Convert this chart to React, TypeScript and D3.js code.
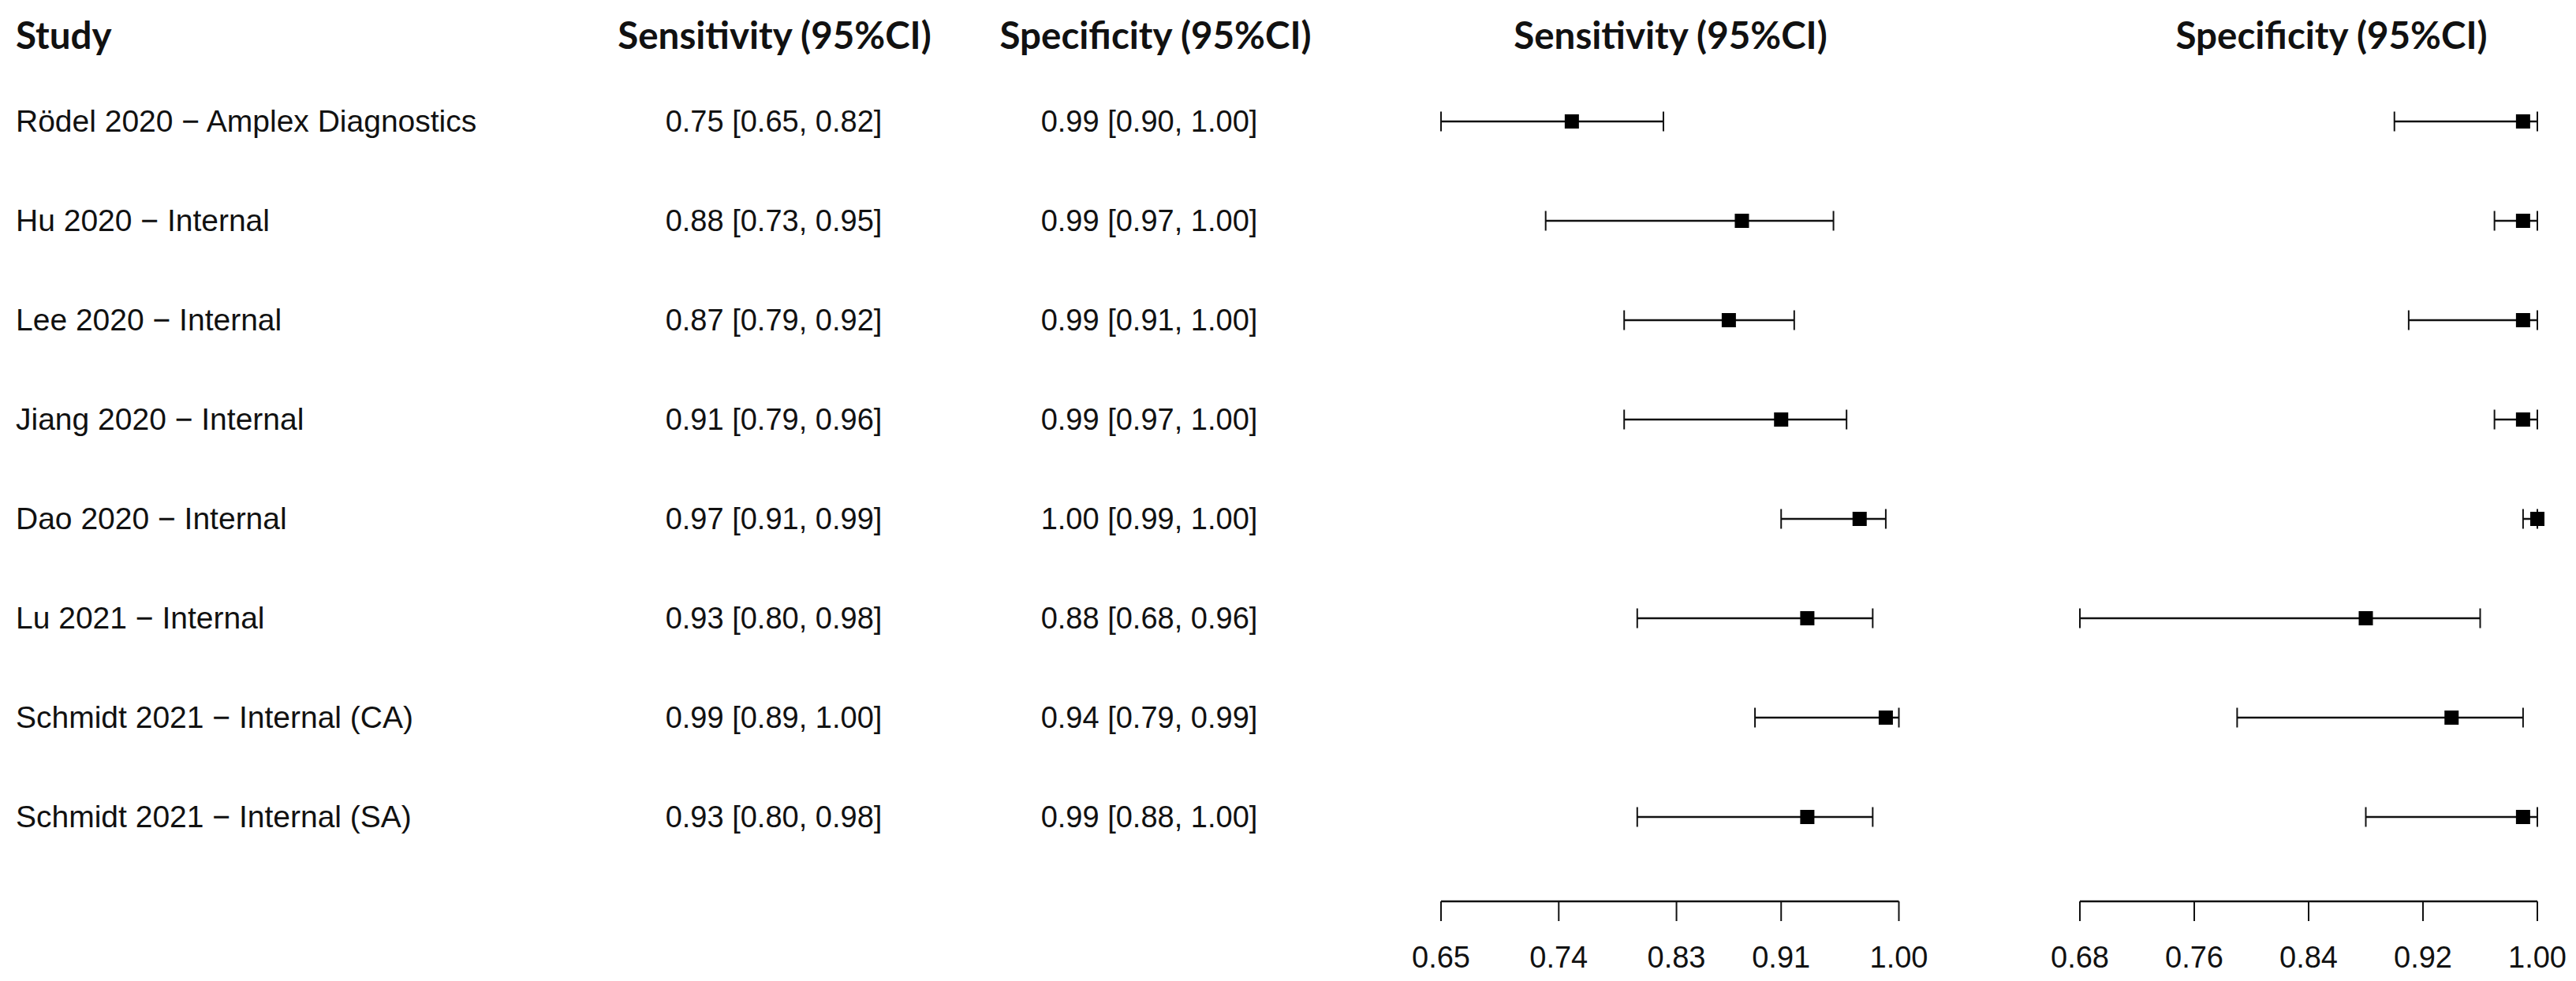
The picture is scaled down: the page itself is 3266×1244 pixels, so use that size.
import * as d3 from "d3";

const studies = [
  "Rödel 2020 − Amplex Diagnostics",
  "Hu 2020 − Internal",
  "Lee 2020 − Internal",
  "Jiang 2020 − Internal",
  "Dao 2020 − Internal",
  "Lu 2021 − Internal",
  "Schmidt 2021 − Internal (CA)",
  "Schmidt 2021 − Internal (SA)",
];

const sensEst = [0.75, 0.88, 0.87, 0.91, 0.97, 0.93, 0.99, 0.93];
const sensLow = [0.65, 0.73, 0.79, 0.79, 0.91, 0.8, 0.89, 0.8];
const sensHigh = [0.82, 0.95, 0.92, 0.96, 0.99, 0.98, 1.0, 0.98];

const specEst = [0.99, 0.99, 0.99, 0.99, 1.0, 0.88, 0.94, 0.99];
const specLow = [0.9, 0.97, 0.91, 0.97, 0.99, 0.68, 0.79, 0.88];
const specHigh = [1.0, 1.0, 1.0, 1.0, 1.0, 0.96, 0.99, 1.0];

const sensTicks = [0.65, 0.74, 0.83, 0.91, 1.0];
const specTicks = [0.68, 0.76, 0.84, 0.92, 1.0];

const W = 3266;
const H = 1244;
const headFont = "Lato, 'Open Sans', sans-serif";
const bodyFont = "'Liberation Sans', Arial, sans-serif";
const ink = "#111";
const headSize = 47.5;

const fmt = d3.format(".2f");
const ci = (e: number, l: number, h: number) =>
  `${fmt(e)} [${fmt(l)}, ${fmt(h)}]`;

function Forest({
  title,
  titleX,
  est,
  low,
  high,
  ticks,
  x,
  y,
  axisY,
}: {
  title: string;
  titleX: number;
  est: number[];
  low: number[];
  high: number[];
  ticks: number[];
  x: d3.ScaleLinear<number, number>;
  y: d3.ScaleLinear<number, number>;
  axisY: number;
}) {
  const [d0, d1] = x.domain();
  const box = 18;
  const cap = 12.5;
  return (
    <g>
      <text
        x={titleX}
        y={62}
        textAnchor="middle"
        fontFamily={headFont}
        fontWeight={700}
        fontSize={headSize}
        fill={ink}
      >
        {title}
      </text>
      {est.map((e, i) => {
        const cy = y(i);
        return (
          <g key={i} stroke={ink}>
            <line x1={x(low[i])} x2={x(high[i])} y1={cy} y2={cy} strokeWidth={2.5} />
            <line x1={x(low[i])} x2={x(low[i])} y1={cy - cap} y2={cy + cap} strokeWidth={2} />
            <line x1={x(high[i])} x2={x(high[i])} y1={cy - cap} y2={cy + cap} strokeWidth={2} />
            <rect
              x={x(e) - box / 2}
              y={cy - box / 2}
              width={box}
              height={box}
              fill="#000"
              stroke="none"
            />
          </g>
        );
      })}
      {/* axis */}
      <g stroke={ink} strokeWidth={2.5}>
        <line x1={x(d0)} x2={x(d1)} y1={axisY} y2={axisY} />
        {ticks.map((t) => (
          <line key={t} x1={x(t)} x2={x(t)} y1={axisY} y2={axisY + 25} strokeWidth={2} />
        ))}
      </g>
      {ticks.map((t) => (
        <text
          key={t}
          x={x(t)}
          y={axisY + 84}
          textAnchor="middle"
          fontFamily={bodyFont}
          fontSize={38}
          fill={ink}
        >
          {fmt(t)}
        </text>
      ))}
    </g>
  );
}

export default function App() {
  const y = d3.scaleLinear().domain([0, studies.length - 1]).range([154, 1036]);
  const xSens = d3.scaleLinear().domain([0.65, 1.0]).range([1827, 2407.5]);
  const xSpec = d3.scaleLinear().domain([0.68, 1.0]).range([2637, 3217]);
  const axisY = 1143;

  const sensCol = 981;
  const specCol = 1457;

  return (
    <>
      <style>{`body{margin:0;background:#fff}`}</style>
      <svg width={W} height={H} style={{ display: "block" }}>
        <rect width={W} height={H} fill="#fff" />
        <g fontFamily={headFont} fontWeight={700} fontSize={headSize} fill={ink}>
          <text x={20} y={62}>Study</text>
          <text x={982} y={62} textAnchor="middle">Sensitivity (95%CI)</text>
          <text x={1465} y={62} textAnchor="middle">Specificity (95%CI)</text>
        </g>
        <g fontFamily={bodyFont} fill={ink}>
          {studies.map((s, i) => (
            <g key={s}>
              <text x={20} y={y(i) + 13} fontSize={39}>{s}</text>
              <text x={sensCol} y={y(i) + 13} fontSize={38} textAnchor="middle">
                {ci(sensEst[i], sensLow[i], sensHigh[i])}
              </text>
              <text x={specCol} y={y(i) + 13} fontSize={38} textAnchor="middle">
                {ci(specEst[i], specLow[i], specHigh[i])}
              </text>
            </g>
          ))}
        </g>
        <Forest
          title="Sensitivity (95%CI)"
          titleX={2118}
          est={sensEst}
          low={sensLow}
          high={sensHigh}
          ticks={sensTicks}
          x={xSens}
          y={y}
          axisY={axisY}
        />
        <Forest
          title="Specificity (95%CI)"
          titleX={2956}
          est={specEst}
          low={specLow}
          high={specHigh}
          ticks={specTicks}
          x={xSpec}
          y={y}
          axisY={axisY}
        />
      </svg>
    </>
  );
}
